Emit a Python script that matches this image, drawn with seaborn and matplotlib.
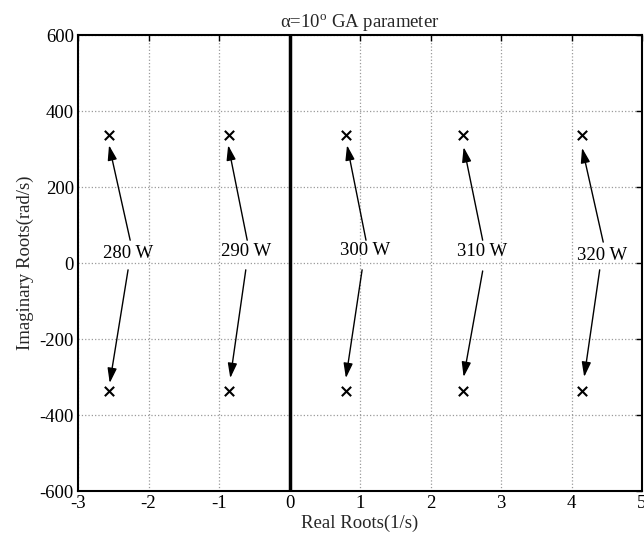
import matplotlib
matplotlib.use("Agg")
import matplotlib.pyplot as plt
import seaborn as sns
import pandas as pd

# ---- data ----
labels = ['280 W', '290 W', '300 W', '310 W', '320 W']
real_roots = [-2.56, -0.86, 0.80, 2.46, 4.15]
imag_upper = [338, 338, 338, 338, 338]
imag_lower = [-338, -338, -338, -338, -338]

label_x = [-2.29, -0.62, 1.07, 2.73, 4.43]
label_y = [26, 29, 34, 29, 21]

up_tail_x = [-2.26, -0.60, 1.085, 2.74, 4.45]
up_tail_y = [60, 60, 60, 60, 55]
up_head_x = [-2.56, -0.87, 0.816, 2.47, 4.15]
up_head_y = [310, 310, 310, 305, 303]

lo_tail_x = [-2.29, -0.62, 1.03, 2.74, 4.40]
lo_tail_y = [-18, -18, -18, -21, -18]
lo_head_x = [-2.55, -0.84, 0.80, 2.47, 4.18]
lo_head_y = [-316, -303, -303, -300, -300]

x_ticks = [-3, -2, -1, 0, 1, 2, 3, 4, 5]
y_ticks = [-600, -400, -200, 0, 200, 400, 600]

sns.set_style('white')
plt.rcParams['font.family'] = ['Liberation Serif', 'DejaVu Serif']
plt.rcParams['mathtext.fontset'] = 'custom'
plt.rcParams['mathtext.rm'] = 'Liberation Serif'
plt.rcParams['mathtext.it'] = 'Liberation Serif:italic'

fig = plt.figure(figsize=(6.44, 5.40), dpi=100)
ax = fig.add_axes([78/644, 1 - 491/540, (642-78)/644, (491-35)/540])

df = pd.DataFrame({
    'real': real_roots + real_roots,
    'imag': imag_upper + imag_lower,
})
sns.scatterplot(data=df, x='real', y='imag', marker='x', color='black',
                s=45, linewidth=1.5, ax=ax, zorder=5)

ax.set_xlim(-3, 5)
ax.set_ylim(-600, 600)
ax.set_xticks(x_ticks)
ax.set_yticks(y_ticks)
ax.set_xticklabels([str(t) for t in x_ticks])
ax.set_yticklabels([str(t) for t in y_ticks])
ax.grid(True, color='#9a9a9a', linestyle=':', linewidth=0.9)
ax.axvline(0, color='black', linewidth=2.5, zorder=3)

for s in ax.spines.values():
    s.set_color('black')
    s.set_linewidth(1.5)
ax.tick_params(direction='in', length=4, width=1, top=True, right=True,
               labelsize=13.5, colors='black', pad=3)

for i, lab in enumerate(labels):
    ax.text(label_x[i], label_y[i], lab, ha='center', va='center',
            fontsize=13.5, color='black', zorder=6)
    for tx, ty, hx, hy in [(up_tail_x[i], up_tail_y[i], up_head_x[i], up_head_y[i]),
                           (lo_tail_x[i], lo_tail_y[i], lo_head_x[i], lo_head_y[i])]:
        ax.annotate('', xy=(hx, hy), xytext=(tx, ty),
                    arrowprops=dict(arrowstyle='-|>,head_length=0.9,head_width=0.28',
                                    color='black', lw=1.0,
                                    shrinkA=0, shrinkB=0), zorder=6)

ax.set_xlabel('Real Roots(1/s)', fontsize=13.5, labelpad=2)
ax.set_ylabel('Imaginary Roots(rad/s)', fontsize=13.5, labelpad=4)
ax.set_title(r'α=10$^{\rm o}$ GA parameter', fontsize=13.5, pad=6)

fig.savefig('out.png', dpi=100)
